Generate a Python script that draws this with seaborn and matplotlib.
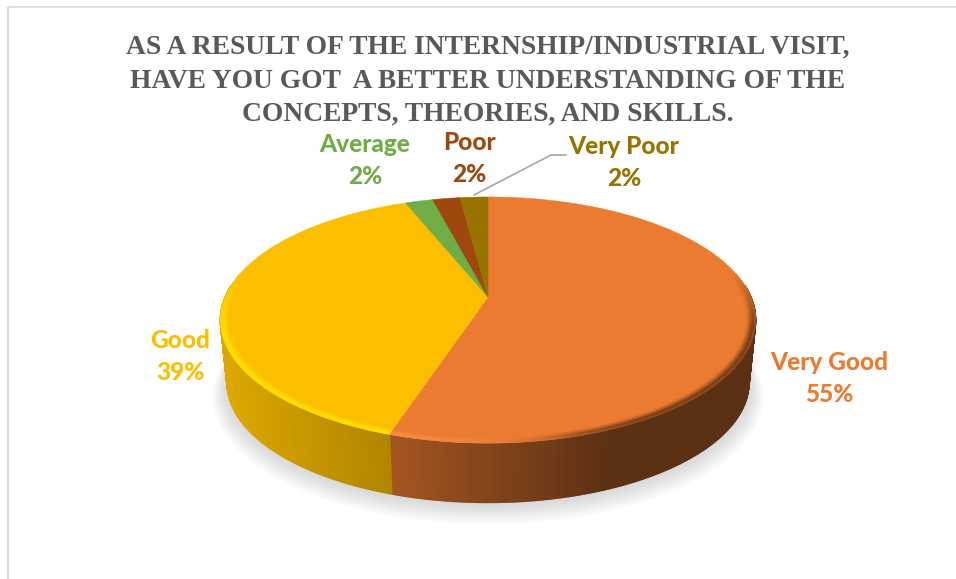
import numpy as np
import matplotlib
matplotlib.use("Agg")
import matplotlib.pyplot as plt
from matplotlib.collections import PolyCollection
from matplotlib.colors import to_rgb
import seaborn as sns

categories = ["Very Good", "Good", "Average", "Poor", "Very Poor"]
values = [55, 39, 2, 2, 2]
palette = ["#EB7B30", "#FCBF00", "#70AD47", "#9E480E", "#997300"]
title_lines = ["AS A RESULT OF THE INTERNSHIP/INDUSTRIAL VISIT,",
               "HAVE YOU GOT  A BETTER UNDERSTANDING OF THE",
               "CONCEPTS, THEORIES, AND SKILLS."]
label_pos = [(829, 363), (180, 341), (365, 145), (469, 142), (624, 147)]

sns.set_theme(style="white")
plt.rcParams["font.family"] = ["Lato", "DejaVu Sans"]

fig = plt.figure(figsize=(9.56, 5.79), dpi=100)
ax = fig.add_axes([0, 0, 1, 1])
ax.set_xlim(0, 956)
ax.set_ylim(579, 0)
ax.axis("off")

CX, CY = 488.0, 297.0
K, A, B = 0.187, 262.8, 118.7
DEPTH, SHRINK = 63.0, 0.975


def project(theta, r=1.0):
    x, y = r * np.cos(theta), r * np.sin(theta)
    d = 1 + K * y
    return A * x / d, -B * y / d


def top(theta, r=1.0):
    x, y = project(theta, r)
    return CX + x, CY + y


def bottom(theta, s=SHRINK, dy=0.0):
    x, y = project(theta)
    return CX + s * x, CY + DEPTH + dy + s * y


# slice boundaries, clockwise from 12 o'clock
fracs = np.array(values, dtype=float) / np.sum(values)
edges = np.pi / 2 - 2 * np.pi * np.concatenate([[0], np.cumsum(fracs)])
colors = [np.array(to_rgb(c)) for c in palette]

# soft shadow
circle = np.linspace(0, 2 * np.pi, 361)
for s, dy in zip(np.linspace(1.03, 0.975, 14), np.linspace(14, 2, 14)):
    bx, by = bottom(circle, s, dy)
    ax.fill(bx, by, color="#8c8c8c", alpha=0.022, lw=0, zorder=1)

# side wall
SX = [220, 388, 480, 560, 610, 760]
SV = [0.88, 0.70, 0.57, 0.46, 0.39, 0.39]
polys, cols = [], []
for i, col in enumerate(colors):
    n = max(3, int(abs(edges[i + 1] - edges[i]) / np.radians(0.5)))
    th = np.linspace(edges[i], edges[i + 1], n + 1)
    for a, b in zip(th[:-1], th[1:]):
        if np.sin((a + b) / 2) > 0.1:
            continue
        x1, y1 = top(a)
        x2, y2 = top(b)
        x3, y3 = bottom(b)
        x4, y4 = bottom(a)
        polys.append([(x1, y1), (x2, y2), (x3, y3), (x4, y4)])
        cols.append(col * np.interp((x1 + x2) / 2, SX, SV))
ax.add_collection(PolyCollection(polys, facecolors=cols, edgecolors=cols, linewidths=1.2, zorder=2))

# top surface
for i, col in enumerate(colors):
    th = np.linspace(edges[i], edges[i + 1], 240)
    x, y = top(th)
    ax.fill(np.r_[CX, x], np.r_[CY, y], color=col, lw=0.4, zorder=3)

# bevel along the front of the rim
radii = np.linspace(0.968, 1.0, 9)
weights = np.interp(0.5 * (radii[:-1] + radii[1:]), [0.968, 0.98, 0.99, 1.0], [0, 0.5, 1.0, 0.8])
polys, cols = [], []
for i, col in enumerate(colors[:2]):
    th = np.linspace(edges[i], edges[i + 1], int(abs(edges[i + 1] - edges[i]) / np.radians(0.5)) + 1)
    for a, b in zip(th[:-1], th[1:]):
        m = (a + b) / 2
        front = np.clip((0.2 - np.sin(m)) / 0.45, 0, 1)
        if front <= 0:
            continue
        xm = top(m)[0]
        if i == 1:
            rim = np.array([1.0, 0.89, 0.0])
            amount = 0.95
        else:
            light = np.array([0.98, 0.56, 0.30])
            dark = col * 0.39
            t = np.clip((xm - 490) / 90, 0, 1)
            rim = light * (1 - t) + dark * t
            amount = np.interp(xm, [388, 490, 540, 640], [0.9, 0.35, 0.4, 0.8])
        for r0, r1, w in zip(radii[:-1], radii[1:], weights):
            x1, y1 = top(a, r0)
            x2, y2 = top(b, r0)
            x3, y3 = top(b, r1)
            x4, y4 = top(a, r1)
            polys.append([(x1, y1), (x2, y2), (x3, y3), (x4, y4)])
            mix = w * front * amount
            cols.append(col * (1 - mix) + rim * mix)
ax.add_collection(PolyCollection(polys, facecolors=cols, edgecolors=cols, linewidths=0.5, zorder=4))

# frame lines
ax.plot([8, 8], [579, 7], color="#d9d9d9", lw=1.6, zorder=0, solid_capstyle="butt")
ax.plot([8, 956], [7, 7], color="#d9d9d9", lw=1.2, zorder=0, solid_capstyle="butt")

# title
for line, yy in zip(title_lines, [47, 81, 114]):
    ax.text(488, yy, line, ha="center", va="center", fontsize=19.8,
            family=["Liberation Serif", "DejaVu Serif"], weight="bold", color="#595959", zorder=6)

# labels
for name, val, col, (lx, ly) in zip(categories, values, palette, label_pos):
    ax.text(lx, ly, name, ha="center", va="center", fontsize=17.6, weight=900, color=col, zorder=6)
    ax.text(lx, ly + 32, f"{val}%", ha="center", va="center", fontsize=17.6, weight=900, color=col, zorder=6)

# leader line to the smallest slice
ax.plot([474, 551, 566], [195, 155, 155], color="#a6a6a6", lw=1.2, zorder=5)

fig.savefig("out.png", dpi=100)
